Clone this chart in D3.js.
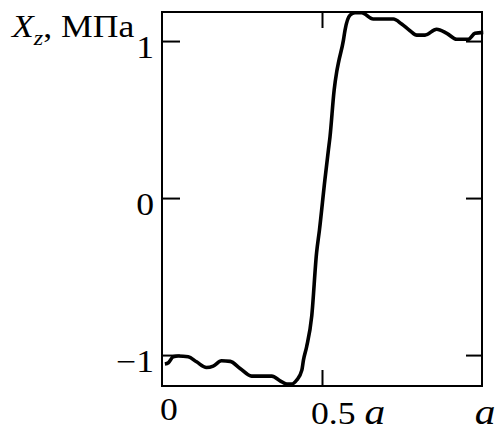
<!DOCTYPE html>
<html>
<head>
<meta charset="utf-8">
<script src="https://cdn.jsdelivr.net/npm/d3@7"></script>
<style>
body { margin: 0; background: #fff; }
</style>
</head>
<body>
<script>
// curve (x as fraction of a, Xz in MPa)
const pos_x = [0.009, 0.020, 0.035, 0.051, 0.082, 0.108, 0.139, 0.160, 0.186, 0.213,
	0.244, 0.280, 0.343, 0.369, 0.390, 0.405, 0.421, 0.437, 0.442, 0.452,
	0.468, 0.483, 0.492, 0.509, 0.520, 0.525, 0.538, 0.546, 0.551, 0.567,
	0.572, 0.588, 0.603, 0.624, 0.660, 0.723, 0.749, 0.775, 0.796, 0.822,
	0.858, 0.890, 0.921, 0.957, 0.978, 1.004];
const stress = [-1.057, -1.049, -1.011, -1.006, -1.011, -1.043, -1.079, -1.070, -1.036, -1.040,
	-1.085, -1.134, -1.134, -1.164, -1.185, -1.185, -1.159, -1.096, -1.032, -0.947,
	-0.750, -0.350, -0.204, 0.115, 0.306, 0.390, 0.688, 0.804, 0.858, 1.006,
	1.070, 1.166, 1.180, 1.180, 1.140, 1.140, 1.108, 1.066, 1.038, 1.038,
	1.075, 1.049, 1.011, 1.011, 1.049, 1.055];

const y_ticks = [1, 0, -1];
const y_labels = ['1', '0', '\u22121'];
const x_ticks = [0.5];

function init()
{
	const width = 497, height = 430;
	const left = 162, right = 482, top = 12, bottom = 386;
	const stretch = 1.15;
	const serif = '"Liberation Serif", "Times New Roman", "DejaVu Serif", serif';

	var svg = d3.select('body').append('svg')
		.attr('width', width)
		.attr('height', height)
		.attr('font-family', serif);

	var x = d3.scaleLinear().domain([0, 1]).range([left, right]);
	var y = d3.scaleLinear().domain([-1.197, 1.185]).range([bottom, top]);

	// ticks pointing inward on all four sides
	function clean(g)
	{
		g.select('.domain').remove();
		g.selectAll('line').attr('stroke', '#000').attr('stroke-width', 2);
	}
	svg.append('g').attr('transform', 'translate(' + left + ',0)')
		.call(d3.axisRight(y).tickValues(y_ticks).tickSize(18).tickFormat(''))
		.call(clean);
	svg.append('g').attr('transform', 'translate(' + right + ',0)')
		.call(d3.axisLeft(y).tickValues(y_ticks).tickSize(16).tickFormat(''))
		.call(clean);
	svg.append('g').attr('transform', 'translate(0,' + bottom + ')')
		.call(d3.axisTop(x).tickValues(x_ticks).tickSize(16).tickFormat(''))
		.call(clean);
	svg.append('g').attr('transform', 'translate(0,' + top + ')')
		.call(d3.axisBottom(x).tickValues(x_ticks).tickSize(16).tickFormat(''))
		.call(clean);

	svg.append('rect')
		.attr('x', left).attr('y', top)
		.attr('width', right - left).attr('height', bottom - top)
		.attr('fill', 'none').attr('stroke', '#000').attr('stroke-width', 2);

	var pts = pos_x.map(function(d, i) { return [d, stress[i]]; });
	svg.append('path')
		.datum(pts)
		.attr('fill', 'none')
		.attr('stroke', '#000')
		.attr('stroke-width', 3.6)
		.attr('stroke-linejoin', 'round')
		.attr('d', d3.line()
			.curve(d3.curveMonotoneX)
			.x(function(d) { return x(d[0]); })
			.y(function(d) { return y(d[1]); }));

	// text, slightly wider than the font as in the picture
	function label(px, py, anchor)
	{
		return svg.append('text')
			.attr('transform', 'translate(' + px + ',' + py + ') scale(' + stretch + ',1)')
			.attr('text-anchor', anchor)
			.attr('font-family', serif)
			.attr('font-size', 31)
			.attr('fill', '#000');
	}

	y_ticks.forEach(function(v, i)
	{
		label(154, y(v) + 17, 'end').text(y_labels[i]);
	});

	label(169, 420, 'middle').text('0');
	var mid = label(311, 424, 'start');
	mid.append('tspan').text('0.5 ');
	mid.append('tspan').attr('font-style', 'italic').attr('font-size', 36).text('a');
	label(485, 424, 'middle').append('tspan')
		.attr('font-style', 'italic').attr('font-size', 36).text('a');

	var title = label(12, 37, 'start');
	title.append('tspan').attr('font-style', 'italic').text('X');
	title.append('tspan').attr('font-style', 'italic').attr('font-size', 21)
		.attr('dy', 8).text('z');
	title.append('tspan').attr('dy', -8).text(', МПа');
}
init();
</script>
</body>
</html>
